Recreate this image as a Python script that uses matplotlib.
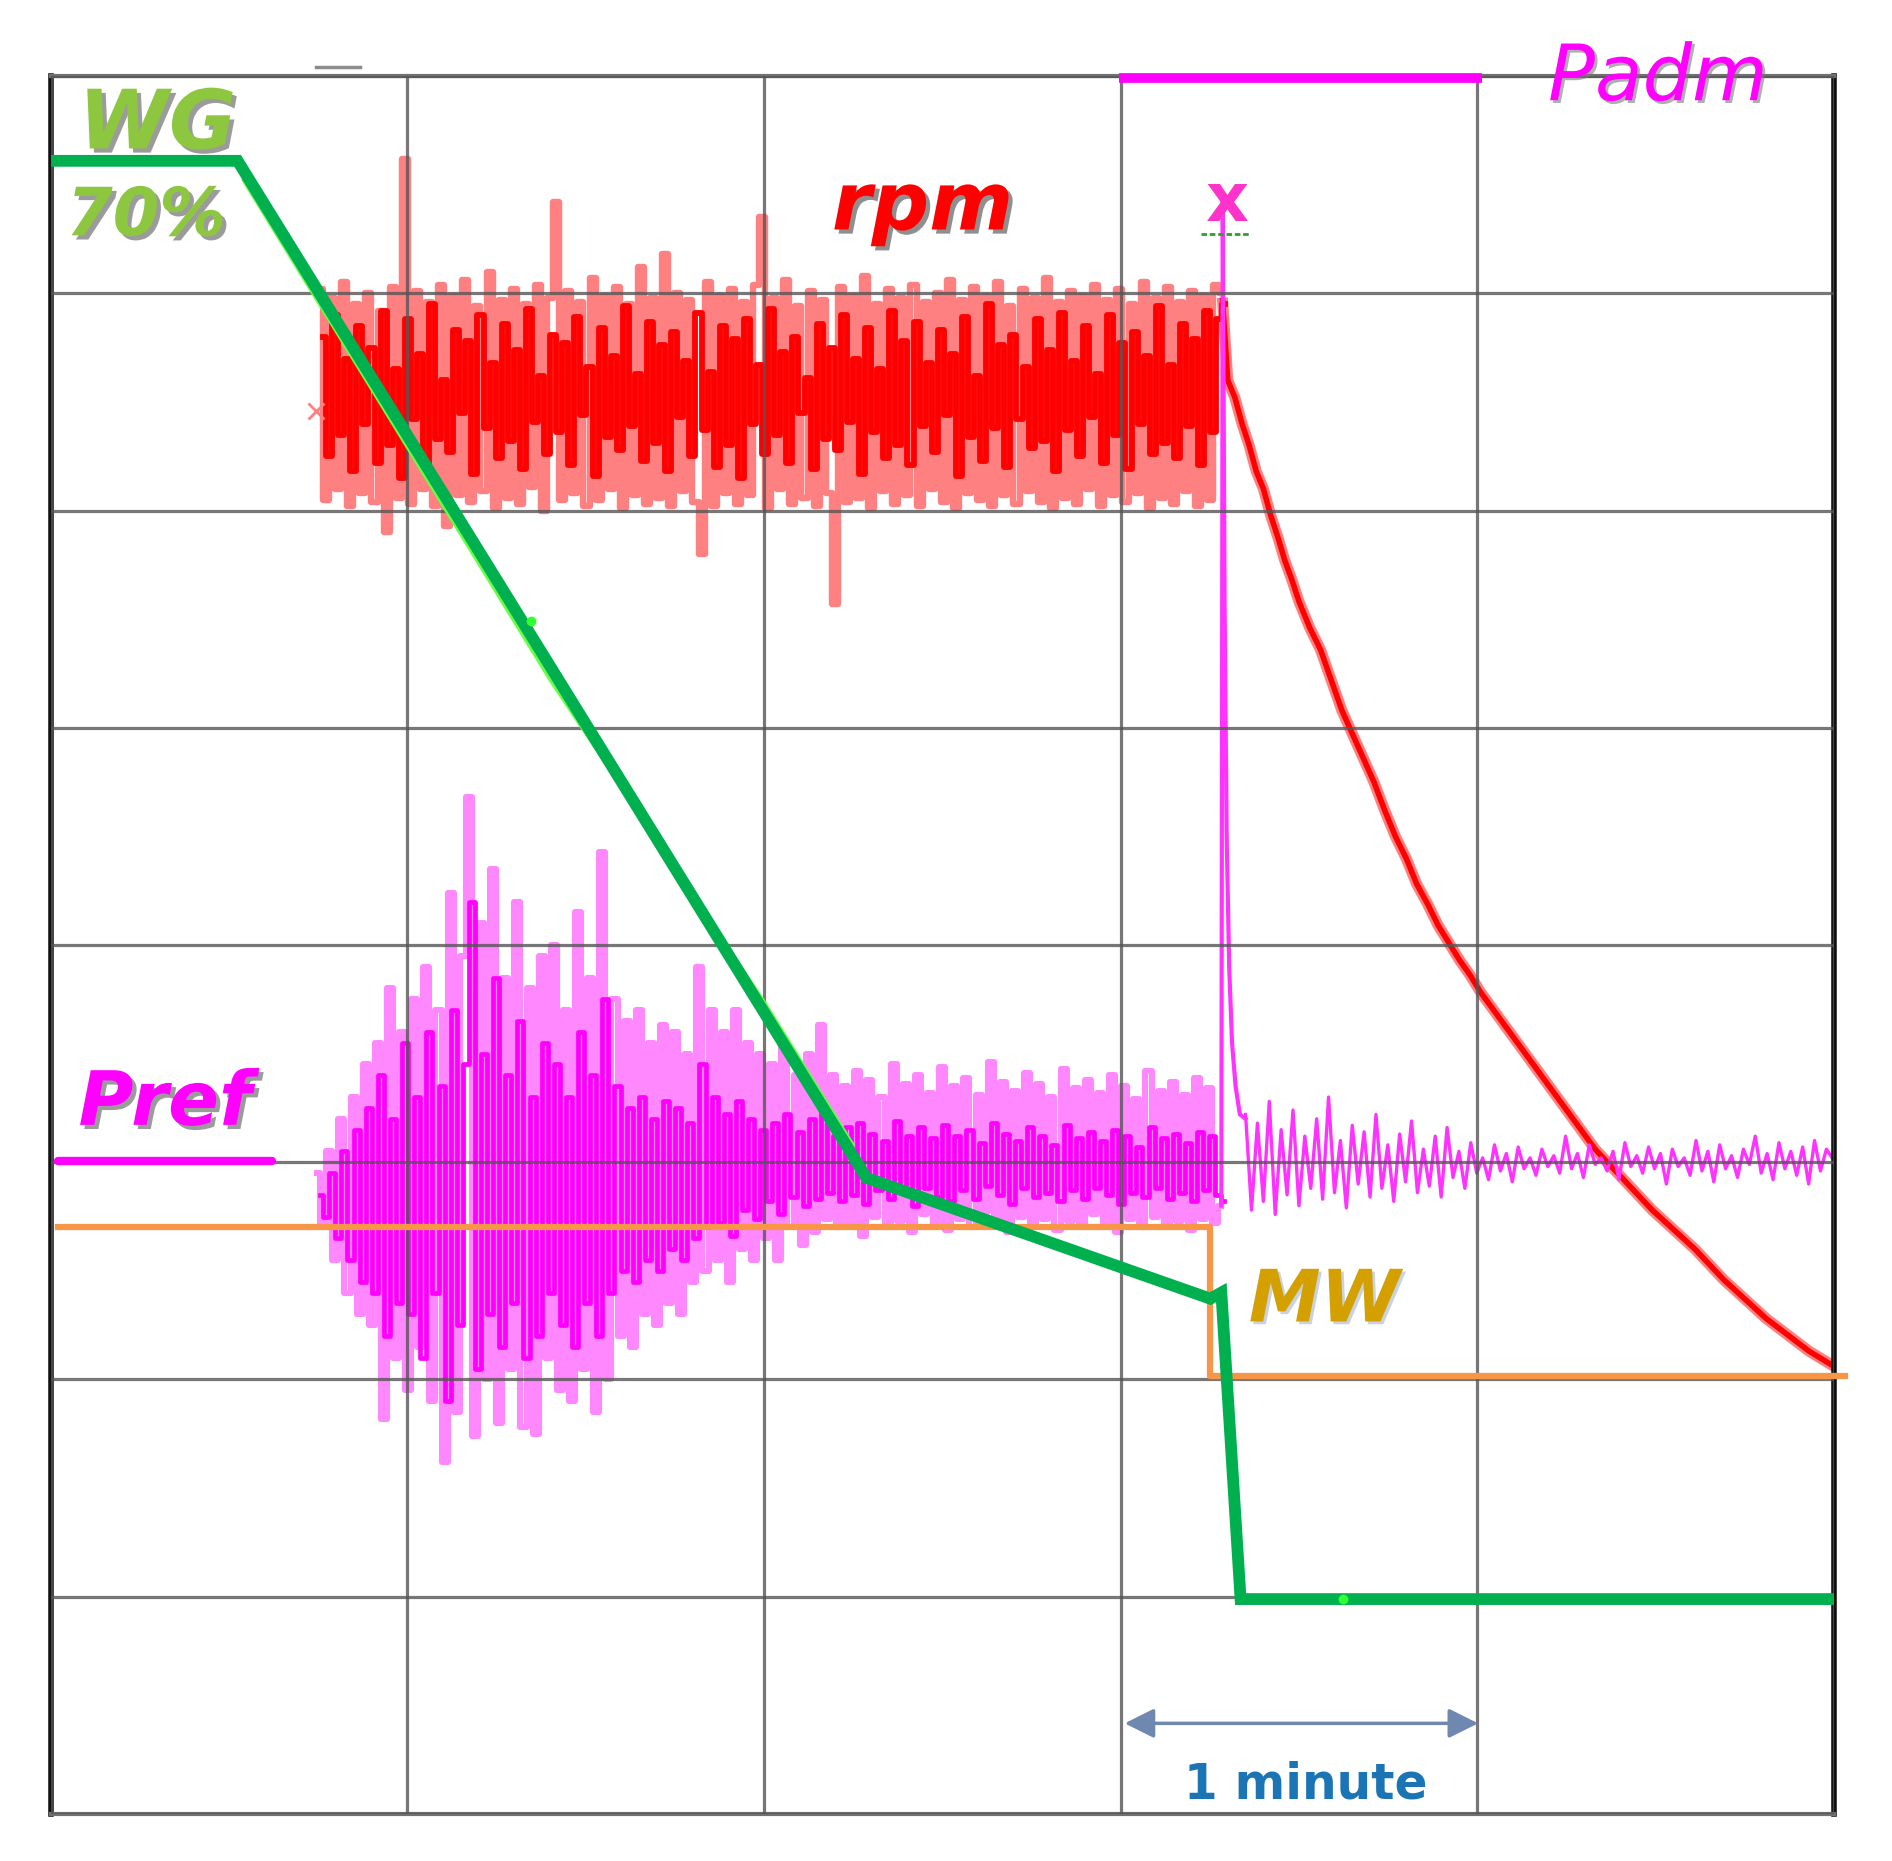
import matplotlib
matplotlib.use("Agg")
import matplotlib.pyplot as plt
import matplotlib.patheffects as pe
import numpy as np

# grid: 5 divisions in time (1 minute each), 8 vertical divisions
x_div = 5
y_div = 8

# WG (gate opening) trace
wg_x = [0.0, 0.524, 2.287, 3.251, 3.282, 3.336, 4.993]
wg_y = [7.61, 7.61, 2.928, 2.372, 2.40, 0.989, 0.989]
wg2_x = [0.54, 1.40, 2.00, 2.25]
wg2_y = [7.52, 5.22, 3.74, 3.08]
wg_dots_x = [1.346, 3.623]
wg_dots_y = [5.49, 0.99]

# MW (power) trace
mw_x = [0.02, 3.251, 3.251, 5.03]
mw_y = [2.70, 2.70, 2.017, 2.017]

# Padm / Pref markers
padm_x = [2.994, 4.012]
padm_y = [7.99, 7.99]
pref_mark_x = [0.02, 0.62]
pref_mark_y = [3.006, 3.006]

# rpm noisy band (before trip)
rpm_t0, rpm_t1 = 0.755, 3.285
rpm_light = [
    7.02, 6.05, 6.98, 6.10, 7.05, 6.02, 6.95, 6.08, 7.00, 6.04,
    6.92, 5.90, 7.03, 6.06, 7.62, 6.03, 7.01, 6.10, 6.96, 6.02,
    7.04, 5.93, 6.99, 6.07, 7.06, 6.04, 6.94, 6.09, 7.10, 6.01,
    6.97, 6.06, 7.02, 6.03, 6.95, 6.11, 7.04, 6.00, 6.98, 7.42,
    6.05, 7.01, 6.08, 6.96, 6.02, 7.07, 6.05, 6.99, 6.10, 7.03,
    6.01, 6.95, 6.07, 7.12, 6.03, 6.98, 6.06, 7.18, 6.02, 7.00,
    6.09, 6.97, 6.04, 5.80, 7.05, 6.02, 6.99, 6.08, 7.02, 6.03,
    6.96, 6.07, 7.04, 7.35, 6.01, 6.98, 6.10, 7.06, 6.03, 6.94,
    6.06, 7.01, 6.02, 6.97, 6.08, 5.57, 7.03, 6.04, 6.99, 6.06,
    7.08, 6.01, 6.95, 6.09, 7.02, 6.03, 6.98, 6.07, 7.04, 6.02,
    6.96, 6.10, 7.00, 6.04, 7.06, 6.01, 6.97, 6.08, 7.03, 6.05,
    6.99, 6.02, 7.05, 6.07, 6.94, 6.03, 7.02, 6.09, 6.98, 6.04,
    7.07, 6.01, 6.96, 6.06, 7.01, 6.03, 6.99, 6.10, 7.04, 6.02,
    6.97, 6.07, 7.02, 6.04, 6.95, 6.08, 7.05, 6.01, 6.98, 6.06,
    7.03, 6.03, 6.96, 6.09, 7.01, 6.02, 6.99, 6.05, 7.04, 7.00,
]
rpm_dark = [
    6.80, 6.25, 6.90, 6.35, 6.70, 6.18, 6.85, 6.40, 6.75, 6.22,
    6.92, 6.30, 6.65, 6.15, 6.88, 6.42, 6.72, 6.20, 6.95, 6.33,
    6.60, 6.27, 6.83, 6.45, 6.78, 6.17, 6.90, 6.38, 6.68, 6.24,
    6.86, 6.32, 6.74, 6.19, 6.93, 6.41, 6.62, 6.26, 6.81, 6.36,
    6.77, 6.21, 6.89, 6.44, 6.66, 6.16, 6.84, 6.34, 6.71, 6.28,
    6.94, 6.39, 6.63, 6.23, 6.87, 6.31, 6.76, 6.18, 6.82, 6.43,
    6.69, 6.25, 6.91, 6.37, 6.64, 6.20, 6.85, 6.30, 6.79, 6.15,
    6.88, 6.40, 6.67, 6.26, 6.93, 6.35, 6.73, 6.22, 6.80, 6.45,
    6.61, 6.19, 6.86, 6.33, 6.75, 6.28, 6.90, 6.41, 6.70, 6.17,
    6.84, 6.36, 6.65, 6.24, 6.92, 6.30, 6.78, 6.21, 6.87, 6.39,
    6.68, 6.27, 6.83, 6.44, 6.72, 6.16, 6.89, 6.34, 6.62, 6.23,
    6.95, 6.38, 6.76, 6.20, 6.81, 6.42, 6.66, 6.29, 6.88, 6.32,
    6.74, 6.18, 6.91, 6.37, 6.69, 6.25, 6.85, 6.43, 6.63, 6.22,
    6.90, 6.35, 6.77, 6.19, 6.82, 6.40, 6.71, 6.26, 6.94, 6.31,
    6.67, 6.24, 6.86, 6.39, 6.79, 6.21, 6.92, 6.36, 6.88, 6.95,
]

# rpm run-down after trip
rpm_decay_x = [
    3.285, 3.30, 3.32, 3.34, 3.36, 3.38, 3.40, 3.42, 3.44, 3.46,
    3.48, 3.50, 3.53, 3.56, 3.59, 3.62, 3.65, 3.68, 3.71, 3.74,
    3.77, 3.80, 3.83, 3.86, 3.89, 3.92, 3.95, 3.98, 4.01, 4.05,
    4.09, 4.13, 4.17, 4.21, 4.25, 4.29, 4.33, 4.37, 4.41, 4.45,
    4.49, 4.53, 4.57, 4.61, 4.65, 4.69, 4.73, 4.77, 4.81, 4.85,
    4.89, 4.93, 4.97, 5.00,
]
rpm_decay_y = [
    6.98, 6.60, 6.52, 6.40, 6.30, 6.18, 6.10, 5.98, 5.88, 5.77,
    5.68, 5.58, 5.46, 5.36, 5.22, 5.08, 4.97, 4.86, 4.75, 4.62,
    4.50, 4.40, 4.28, 4.19, 4.09, 4.01, 3.93, 3.86, 3.78, 3.69,
    3.60, 3.51, 3.42, 3.33, 3.24, 3.15, 3.06, 2.99, 2.92, 2.85,
    2.78, 2.72, 2.66, 2.60, 2.53, 2.46, 2.40, 2.34, 2.28, 2.23,
    2.18, 2.13, 2.09, 2.06,
]

# Pref (power reference) noisy band before trip
pref_t0, pref_t1 = 0.747, 3.282
pref_light = [
    2.95, 2.70, 3.05, 2.55, 3.20, 2.40, 3.30, 2.30, 3.45, 2.25,
    3.55, 1.82, 3.80, 2.10, 3.60, 1.95, 3.75, 2.15, 3.90, 1.90,
    3.70, 1.62, 4.24, 1.85, 3.95, 4.68, 1.74, 4.10, 2.00, 4.35,
    1.80, 3.85, 2.05, 4.20, 1.78, 3.80, 1.75, 3.95, 2.10, 4.00,
    1.95, 3.70, 1.90, 4.15, 2.05, 3.85, 1.85, 4.43, 2.00, 3.75,
    2.20, 3.65, 2.15, 3.70, 2.30, 3.55, 2.25, 3.63, 2.35, 3.60,
    2.30, 3.50, 2.45, 3.90, 2.50, 3.70, 2.55, 3.60, 2.45, 3.70,
    2.60, 3.55, 2.55, 3.50, 2.65, 3.45, 2.55, 3.55, 2.70, 3.40,
    2.62, 3.50, 2.68, 3.63, 2.74, 3.40, 2.70, 3.35, 2.72, 3.42,
    2.66, 3.38, 2.75, 3.30, 2.70, 3.45, 2.73, 3.36, 2.68, 3.40,
    2.76, 3.32, 2.71, 3.44, 2.69, 3.35, 2.74, 3.39, 2.70, 3.31,
    2.77, 3.46, 2.72, 3.37, 2.68, 3.33, 2.75, 3.41, 2.71, 3.36,
    2.74, 3.30, 2.69, 3.43, 2.73, 3.34, 2.70, 3.38, 2.76, 3.32,
    2.72, 3.40, 2.68, 3.35, 2.74, 3.29, 2.71, 3.42, 2.75, 3.33,
    2.70, 3.37, 2.73, 3.31, 2.69, 3.39, 2.74, 3.34, 2.72, 2.80,
]
pref_dark = [
    2.85, 2.75, 2.95, 2.65, 3.05, 2.55, 3.15, 2.45, 3.25, 2.40,
    3.40, 2.20, 3.20, 2.35, 3.55, 2.30, 3.30, 2.10, 3.60, 2.40,
    3.35, 1.90, 3.70, 2.25, 3.45, 4.20, 2.05, 3.50, 2.30, 3.85,
    2.15, 3.40, 2.35, 3.65, 2.10, 3.30, 2.20, 3.55, 2.40, 3.45,
    2.25, 3.30, 2.15, 3.60, 2.35, 3.40, 2.20, 3.75, 2.40, 3.35,
    2.50, 3.25, 2.45, 3.30, 2.55, 3.20, 2.50, 3.28, 2.60, 3.25,
    2.55, 3.18, 2.65, 3.45, 2.70, 3.30, 2.72, 3.22, 2.66, 3.28,
    2.78, 3.20, 2.74, 3.15, 2.82, 3.18, 2.76, 3.22, 2.84, 3.14,
    2.80, 3.20, 2.83, 3.25, 2.86, 3.12, 2.82, 3.16, 2.85, 3.18,
    2.81, 3.13, 2.87, 3.10, 2.83, 3.19, 2.86, 3.12, 2.80, 3.16,
    2.88, 3.11, 2.84, 3.17, 2.82, 3.12, 2.87, 3.15, 2.83, 3.09,
    2.89, 3.18, 2.85, 3.13, 2.81, 3.10, 2.88, 3.16, 2.84, 3.12,
    2.86, 3.08, 2.82, 3.17, 2.87, 3.11, 2.83, 3.14, 2.88, 3.10,
    2.85, 3.15, 2.81, 3.12, 2.86, 3.07, 2.84, 3.16, 2.88, 3.11,
    2.83, 3.13, 2.86, 3.09, 2.82, 3.14, 2.87, 3.12, 2.85, 2.82,
]

# trip spike on Pref and settled signal afterwards
spike_x = [3.282, 3.286, 3.291, 3.297, 3.304, 3.312, 3.322, 3.334, 3.350]
spike_y = [2.80, 7.43, 5.60, 4.50, 3.90, 3.55, 3.35, 3.22, 3.20]
post_t0, post_t1 = 3.35, 4.995
pref_post = [
    3.22, 2.78, 3.18, 2.82, 3.28, 2.76, 3.15, 2.85, 3.24, 2.80,
    3.12, 2.88, 3.20, 2.83, 3.30, 2.86, 3.10, 2.79, 3.17, 2.90,
    3.14, 2.84, 3.22, 2.88, 3.08, 2.82, 3.13, 2.91, 3.19, 2.86,
    3.06, 2.89, 3.12, 2.84, 3.16, 2.93, 3.05, 2.88, 3.09, 2.95,
    3.02, 2.92, 3.08, 2.96, 3.04, 2.91, 3.07, 2.97, 3.02, 2.94,
    3.06, 2.98, 3.03, 2.95, 3.12, 2.97, 3.04, 2.93, 3.08, 2.99,
    3.02, 2.96, 3.05, 2.92, 3.09, 2.98, 3.03, 2.95, 3.07, 2.97,
    3.04, 2.90, 3.06, 2.98, 3.02, 2.94, 3.10, 2.96, 3.05, 2.91,
    3.08, 2.97, 3.03, 2.93, 3.06, 2.99, 3.12, 2.95, 3.04, 2.92,
    3.09, 2.97, 3.05, 2.94, 3.07, 2.90, 3.10, 2.96, 3.06, 3.02,
]

fig = plt.figure(figsize=(18.92, 18.61), dpi=100)
ax = fig.add_axes([0.0268, 0.0253, 0.9426, 0.9338])
ax.set_xlim(0, x_div)
ax.set_ylim(0, y_div)

# noisy traces first, grid drawn over them
n = len(rpm_light)
half = 0.5 * (rpm_t1 - rpm_t0) / (n - 1)
rx = np.linspace(rpm_t0, rpm_t1, n)
ax.plot(rx, rpm_light, color="#FF8080", lw=4.6, drawstyle="steps-mid", zorder=1.6)
ax.plot(rx + half, rpm_dark, color="#FF0000", lw=4.2, drawstyle="steps-mid", zorder=1.7)
ax.plot([0.744], [6.46], marker="x", color="#FF8080", ms=12, mew=2, zorder=1.7)
ax.plot(rpm_decay_x, rpm_decay_y, color="#FF8080", lw=8, zorder=1.6,
        solid_capstyle="butt")
ax.plot(rpm_decay_x, rpm_decay_y, color="#FF0000", lw=4, zorder=1.7,
        solid_capstyle="butt")

n = len(pref_light)
half = 0.5 * (pref_t1 - pref_t0) / (n - 1)
px = np.linspace(pref_t0, pref_t1, n)
ax.plot(px, pref_light, color="#FF88FF", lw=4.4, drawstyle="steps-mid", zorder=1.8)
ax.plot(px + half, pref_dark, color="#FF00FF", lw=3.4, drawstyle="steps-mid", zorder=1.9)
ax.plot(spike_x, spike_y, color="#FF33FF", lw=3, zorder=1.9)
qx = np.linspace(post_t0, post_t1, len(pref_post))
ax.plot(qx, pref_post, color="#FF33FF", lw=2.4, zorder=1.9)

# grid and frame
ax.set_xticks(range(x_div + 1))
ax.set_yticks(range(y_div + 1))
ax.tick_params(length=0, labelbottom=False, labelleft=False)
ax.grid(True, color="#555555", lw=2.3, alpha=0.8)
ax.set_axisbelow(False)
for s in ["left", "right"]:
    ax.spines[s].set_color("#111111")
    ax.spines[s].set_linewidth(4)
for s in ["top", "bottom"]:
    ax.spines[s].set_color("#707070")
    ax.spines[s].set_linewidth(3)

# step traces on top of grid
ax.plot(mw_x, mw_y, color="#F79646", lw=4.5, zorder=3, clip_on=False)
ax.plot(wg2_x, wg2_y, color="#66FF44", lw=2.2, zorder=3.1)
ax.plot(wg_x, wg_y, color="#00B04F", lw=8.5, zorder=3.2, solid_joinstyle="miter")
ax.plot(wg_dots_x, wg_dots_y, "o", color="#33FF33", ms=6, zorder=3.3)
ax.plot(padm_x, padm_y, color="#FF00FF", lw=7, zorder=3.4, clip_on=False,
        solid_capstyle="butt")
ax.plot(pref_mark_x, pref_mark_y, color="#FF00FF", lw=6, zorder=3.4,
        solid_capstyle="round")
ax.plot([0.744, 0.866], [8.044, 8.044], color="#8C8C8C", lw=2.5, clip_on=False)

# labels
def shadow(c="#7A7A7A", off=(3, -3)):
    return [pe.SimplePatchShadow(offset=off, shadow_rgbFace=c, alpha=0.75), pe.Normal()]

ax.text(0.078, 7.667, "WG", fontsize=59, weight="bold", style="italic",
        color="#8DC73F", path_effects=shadow(), zorder=5)
ax.text(0.044, 7.267, "70%", fontsize=48, weight="bold", style="italic",
        color="#8DC73F", path_effects=shadow(), zorder=5)
ax.text(2.19, 7.294, "rpm", fontsize=58, weight="bold", style="italic",
        color="#FF0000", path_effects=shadow("#6A6A6A"), zorder=5)
ax.text(3.298, 7.333, "x", fontsize=48, weight="bold", color="#FF33CC",
        ha="center", zorder=5)
ax.plot([3.225, 3.36], [7.272, 7.272], color="#2E9E2E", lw=2,
        linestyle=(0, (2, 1)), zorder=5)
ax.text(4.198, 7.889, "Padm", fontsize=56, style="italic", color="#FF00FF",
        path_effects=[pe.SimplePatchShadow(offset=(2, -2), shadow_rgbFace="#7A7A7A",
                                           alpha=0.6), pe.Normal()],
        zorder=5, clip_on=False)
ax.text(0.078, 3.172, "Pref", fontsize=54, weight="bold", style="italic",
        color="#FF00FF", path_effects=shadow(), zorder=5)
ax.text(3.359, 2.267, "MW", fontsize=52, weight="bold", style="italic",
        color="#D4A000", path_effects=shadow("#B8C4D8", (2, -2)), zorder=5)

ax.annotate("", xy=(4.002, 0.417), xytext=(3.011, 0.417),
            arrowprops=dict(arrowstyle="<|-|>", color="#6E88B0", lw=2.5,
                            mutation_scale=45, shrinkA=0, shrinkB=0), zorder=5)
ax.text(3.518, 0.072, "1 minute", fontsize=35, weight="bold", color="#1B75B5",
        ha="center", zorder=5)

fig.savefig("out.png", dpi=100, facecolor="white")
